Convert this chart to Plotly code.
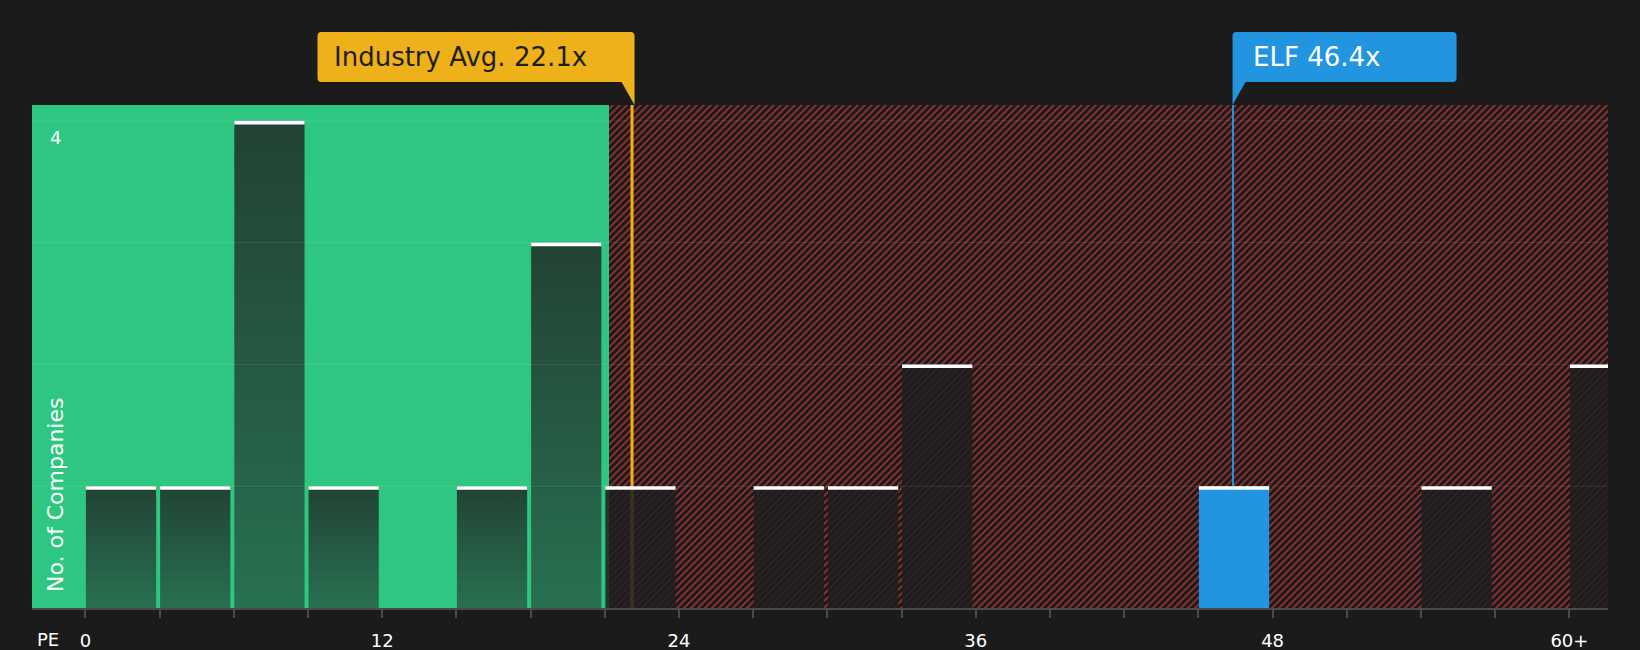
import plotly.graph_objects as go

# P/E of peer companies, bins 3 wide (the last bin collects 60+)
bin_starts = [0, 3, 6, 9, 15, 18, 21, 27, 30, 33, 45, 54, 60]
counts = [1, 1, 4, 1, 1, 3, 1, 1, 1, 2, 1, 1, 2]
bin_width = 3

tick_vals = list(range(0, 61, 3))
label_vals = [0, 12, 24, 36, 48, 60]
label_text = ["0", "12", "24", "36", "48", "60+"]

industry_avg = 22.1
company = "ELF"
company_pe = 46.4
fair_edge = 21.17      # right edge of the green (undervalued) zone

# colours
BG = "#1b1b1b"
GREEN = "#2ec781"
RED = "#e8403f"
ORANGE = "#eeb11a"
BLUE = "#2394e0"
BAR_TOP = "#224234"
BAR_BOTTOM = "#287050"
FONT = "DejaVu Sans"

# canvas geometry
W, H = 1640, 650
ML, MR, MT, MB = 32, 32, 105, 42
PW, PH = W - ML - MR, H - MT - MB
X_RANGE = [-2.16, 61.56]
Y_RANGE = [0, 4.13]


def data_to_px(v):
    return ML + (v - X_RANGE[0]) / (X_RANGE[1] - X_RANGE[0]) * PW


def paper_x(px):
    return (px - ML) / PW


def paper_y(py):
    return (H - MB - py) / PH


def callout_path(left, right, side, top=32.0, bottom=82.0, tip_y=105.0, notch=13.0, r=4.0):
    """Rounded label box with a small pointer down to the plot top (pixel input)."""
    P = lambda x, y: f"{paper_x(x):.5f},{paper_y(y):.5f}"
    if side == "right":
        pts = ["M" + P(left + r, top), "L" + P(right - r, top),
               "Q" + P(right, top) + " " + P(right, top + r),
               "L" + P(right, tip_y), "L" + P(right - notch, bottom),
               "L" + P(left + r, bottom), "Q" + P(left, bottom) + " " + P(left, bottom - r),
               "L" + P(left, top + r), "Q" + P(left, top) + " " + P(left + r, top), "Z"]
    else:
        pts = ["M" + P(left + r, top), "L" + P(right - r, top),
               "Q" + P(right, top) + " " + P(right, top + r),
               "L" + P(right, bottom - r), "Q" + P(right, bottom) + " " + P(right - r, bottom),
               "L" + P(left + notch, bottom), "L" + P(left, tip_y),
               "L" + P(left, top + r), "Q" + P(left, top) + " " + P(left + r, top), "Z"]
    return " ".join(pts)


def rect_trace(xs, bottoms, tops, width, **kw):
    """Filled rectangles (one per bin) drawn as a single scatter polygon trace."""
    px, py = [], []
    for xc, b, t in zip(xs, bottoms, tops):
        x0, x1 = xc - width / 2, xc + width / 2
        px += [x0, x0, x1, x1, x0, None]
        py += [b, t, t, b, b, None]
    return go.Scatter(x=px, y=py, mode="lines", fill="toself", line=dict(width=0),
                      hoverinfo="skip", **kw)


bar_w = 2.84
centers = [s + 1.44 for s in bin_starts]
in_green = [s + bin_width <= fair_edge for s in bin_starts]
is_elf = [s <= company_pe < s + bin_width for s in bin_starts]

fig = go.Figure()

# red hatched "overvalued" zone (pattern tile is size*sqrt(2) = 7px wide)
fig.add_trace(go.Scatter(
    x=[fair_edge, X_RANGE[1], X_RANGE[1], fair_edge, fair_edge],
    y=[0, 0, Y_RANGE[1], Y_RANGE[1], 0],
    mode="lines", fill="toself", line=dict(width=0), fillcolor=BG,
    fillpattern=dict(shape="/", fgcolor=RED, bgcolor=BG, size=4.9497, solidity=0.45),
    hoverinfo="skip"))

# industry average line (sits under the bars)
fig.add_trace(go.Scatter(x=[industry_avg, industry_avg], y=[0, Y_RANGE[1]], mode="lines",
                         line=dict(color=ORANGE, width=3), hoverinfo="skip"))

# bars inside the green zone get a vertical gradient
for c, xc, g in zip(counts, centers, in_green):
    if g:
        fig.add_trace(rect_trace([xc], [0], [c], bar_w,
                                 fillgradient=dict(type="vertical", start=0, stop=c,
                                                   colorscale=[[0, BAR_BOTTOM], [1, BAR_TOP]])))

# bars in the hatched zone are dark and let the hatch show through
dark = [(xc, c) for xc, c, g, e in zip(centers, counts, in_green, is_elf) if not g and not e]
fig.add_trace(rect_trace([d[0] for d in dark], [0] * len(dark), [d[1] for d in dark], bar_w,
                         fillcolor="rgba(32,30,30,0.86)"))

elf = [(xc, c) for xc, c, e in zip(centers, counts, is_elf) if e]
fig.add_trace(rect_trace([elf[0][0]], [0], [elf[0][1]], bar_w, fillcolor=BLUE))

# white caps on top of every bar
cap_h = 0.03
fig.add_trace(rect_trace(centers, [c - cap_h for c in counts], counts, bar_w, fillcolor="#ffffff"))

# company marker line
fig.add_trace(go.Scatter(x=[company_pe, company_pe], y=[elf[0][1], Y_RANGE[1]], mode="lines",
                         line=dict(color=BLUE, width=2), hoverinfo="skip"))

shapes = [dict(type="rect", xref="x", yref="paper", x0=X_RANGE[0], x1=fair_edge, y0=0, y1=1,
               fillcolor=GREEN, line=dict(width=0), layer="below")]
for v in [1, 2, 3, 4]:
    shapes.append(dict(type="line", xref="paper", yref="y", x0=0, x1=1, y0=v, y1=v,
                       line=dict(color="rgba(255,255,255,0.09)", width=1), layer="above"))

avg_px = data_to_px(industry_avg)
avg_left, avg_right = avg_px - 314.5, avg_px + 2.5
shapes.append(dict(type="path", xref="paper", yref="paper", path=callout_path(avg_left, avg_right, "right"),
                   fillcolor=ORANGE, line=dict(width=0), layer="above"))
pe_px = data_to_px(company_pe)
pe_left, pe_right = pe_px - 0.5, pe_px + 223.5
shapes.append(dict(type="path", xref="paper", yref="paper", path=callout_path(pe_left, pe_right, "left"),
                   fillcolor=BLUE, line=dict(width=0), layer="above"))

annotations = [
    dict(text=f"Industry Avg. {industry_avg}x", xref="paper", yref="paper",
         x=paper_x(avg_left + 14), y=paper_y(57), xanchor="left", yanchor="middle", showarrow=False,
         font=dict(family=FONT, size=26, color="#1e1e1e")),
    dict(text=f"{company} {company_pe}x", xref="paper", yref="paper",
         x=paper_x(pe_left + 18), y=paper_y(57), xanchor="left", yanchor="middle", showarrow=False,
         font=dict(family=FONT, size=26, color="#ffffff")),
    dict(text="PE", xref="paper", yref="paper", x=paper_x(48), y=paper_y(639),
         xanchor="center", yanchor="middle", showarrow=False,
         font=dict(family=FONT, size=18, color="#ffffff")),
    dict(text="4", xref="paper", yref="paper", x=paper_x(55), y=paper_y(137),
         xanchor="center", yanchor="middle", showarrow=False,
         font=dict(family=FONT, size=18, color="#ffffff")),
    dict(text="No. of Companies", xref="paper", yref="paper", x=paper_x(55), y=paper_y(594),
         xanchor="center", yanchor="bottom", textangle=-90, showarrow=False,
         font=dict(family=FONT, size=22, color="#ffffff")),
]

tick_text = [label_text[label_vals.index(v)] if v in label_vals else "" for v in tick_vals]

fig.update_layout(
    width=W, height=H,
    margin=dict(l=ML, r=MR, t=MT, b=MB, autoexpand=False),
    paper_bgcolor=BG, plot_bgcolor=BG,
    showlegend=False,
    font=dict(family=FONT, size=18, color="#ffffff"),
    shapes=shapes, annotations=annotations,
)
fig.update_xaxes(range=X_RANGE, tickvals=tick_vals, ticktext=tick_text, ticks="outside",
                 ticklen=8, tickwidth=2, tickcolor="#4a4a4a", showline=True, linecolor="#4a4a4a",
                 linewidth=2, showgrid=False, zeroline=False, ticklabelstandoff=7, automargin=False,
                 tickfont=dict(family=FONT, size=18, color="#ffffff"))
fig.update_yaxes(range=Y_RANGE, showgrid=False, zeroline=False, showticklabels=False, automargin=False)

# no page margin, crisp hatch lines
js = ("document.body.style.margin='0';"
      "document.querySelectorAll('pattern path').forEach(function(p){"
      "p.setAttribute('shape-rendering','crispEdges');});")
fig.write_html("out.html", config={"displayModeBar": False}, post_script=js)
